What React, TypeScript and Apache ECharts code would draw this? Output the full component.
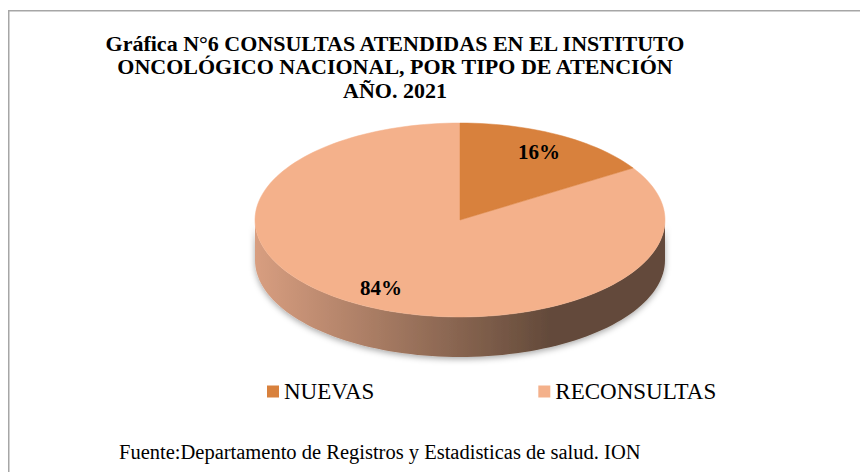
import React, { useEffect, useRef } from "react";
import * as echarts from "echarts";

const categories = ["NUEVAS", "RECONSULTAS"];
const values = [16, 84];
const sliceColors = ["#D8813D", "#F4B18B"];
const titleLines = [
  "Gráfica N°6 CONSULTAS ATENDIDAS EN EL INSTITUTO",
  "ONCOLÓGICO NACIONAL, POR TIPO DE ATENCIÓN",
  "AÑO. 2021",
];
const sourceNote = "Fuente:Departamento de Registros y Estadisticas de salud. ION";

const FONT = "Liberation Serif";
const CX = 460;
const CY = 220;
const RX = 205;
const RY = 97;
const DEPTH = 40;
const LABEL_R = 0.8;

function pt(deg: number, dy = 0, f = 1): number[] {
  const r = (deg * Math.PI) / 180;
  return [CX + RX * f * Math.sin(r), CY - RY * f * Math.cos(r) + dy];
}
function arc(a0: number, a1: number, dy: number): number[][] {
  const pts: number[][] = [];
  const n = Math.max(2, Math.ceil((a1 - a0) / 2));
  for (let i = 0; i <= n; i++) pts.push(pt(a0 + ((a1 - a0) * i) / n, dy));
  return pts;
}

const total = values.reduce((a, b) => a + b, 0);

function makeRenderItem(k: number) {
  return (params: any, api: any) => {
    const v = api.value(0);
    let before = 0;
    for (let i = 0; i < k; i++) before += values[i];
    const start = (before / total) * 360;
    const end = start + (v / total) * 360;
    const children: any[] = [];
    const s = Math.max(start, 90);
    const e = Math.min(end, 270);
    if (e > s) {
      const top = arc(s, e, 0);
      const bot = arc(s, e, DEPTH).reverse();
      children.push({
        type: "polygon",
        shape: { points: top.concat(bot) },
        style: {
          fill: {
            type: "linear",
            x: CX - RX,
            y: 0,
            x2: CX + RX,
            y2: 0,
            global: true,
            colorStops: [
              { offset: 0, color: "#D89E80" },
              { offset: 0.72, color: "#634A3A" },
              { offset: 1, color: "#634A3A" },
            ],
          },
          shadowBlur: 6,
          shadowColor: "rgba(0,0,0,0.35)",
          shadowOffsetY: 2,
        },
      });
    }
    children.push({
      type: "polygon",
      shape: { points: [[CX, CY]].concat(arc(start, end, 0)) },
      style: { fill: sliceColors[k], stroke: sliceColors[k], lineWidth: 0.5 },
    });
    const mid = (start + end) / 2;
    const lp = pt(mid, 0, LABEL_R);
    children.push({
      type: "text",
      x: lp[0],
      y: lp[1],
      style: {
        text: Math.round((v / total) * 100) + "%",
        fontFamily: FONT,
        fontWeight: "bold",
        fontSize: 21,
        fill: "#000",
        align: "center",
        verticalAlign: "middle",
      },
    });
    return { type: "group", children };
  };
}

export default function App() {
  const ref = useRef<HTMLDivElement>(null);
  useEffect(() => {
    document.body.style.margin = "0";
    const chart = echarts.init(ref.current!, null, { renderer: "svg" });
    chart.setOption({
      animation: false,
      backgroundColor: "#fff",
      color: sliceColors,
      legend: {
        data: categories,
        left: 262,
        top: 375,
        icon: "rect",
        itemWidth: 12,
        itemHeight: 12,
        itemGap: 164,
        textStyle: { fontFamily: FONT, fontSize: 23, color: "#000" },
      },
      series: categories.map((name, k) => ({
        type: "custom",
        name,
        coordinateSystem: "none",
        itemStyle: { color: sliceColors[k] },
        data: [[values[k]]],
        renderItem: makeRenderItem(k),
        z: k === 0 ? 3 : 2,
      })),
      graphic: [
        {
          type: "rect",
          shape: { x: 8.75, y: 10.75, width: 1000, height: 1000 },
          style: { fill: "none", stroke: "#A6A6A6", lineWidth: 1.5 },
          silent: true,
        },
        {
          type: "text",
          x: 395,
          y: 31.25,
          style: {
            text: titleLines.join("\n"),
            fontFamily: FONT,
            fontWeight: "bold",
            fontSize: 22,
            lineHeight: 23.5,
            fill: "#000",
            align: "center",
            verticalAlign: "top",
          },
        },
        {
          type: "text",
          x: 119,
          y: 452,
          style: {
            text: sourceNote,
            fontFamily: FONT,
            fontSize: 20.5,
            fill: "#000",
            align: "left",
            verticalAlign: "middle",
          },
        },
      ],
    });
    return () => chart.dispose();
  }, []);
  return <div ref={ref} style={{ width: 860, height: 472 }} />;
}
